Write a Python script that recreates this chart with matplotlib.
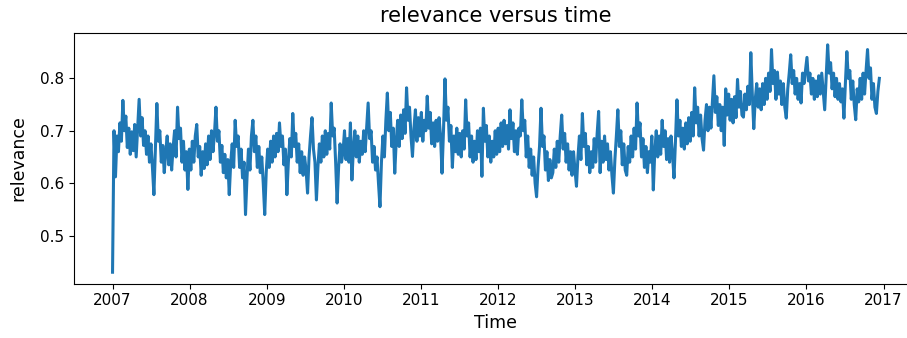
import numpy as np
import pandas as pd
import matplotlib
matplotlib.use('Agg')
import matplotlib.pyplot as plt
import matplotlib.dates as mdates

# weekly readings of relevance (in thousandths)
rel_2007 = [430, 700, 612, 690, 660, 715, 680, 758, 700, 728, 668, 705, 655, 698, 662, 712,
            650, 705, 760, 690, 725, 672, 700, 655, 690, 640, 675, 630, 578, 665, 752, 680,
            700, 640, 672, 620, 660, 690, 635, 675, 625, 668, 700, 650, 745, 685, 705, 640,
            680, 625, 660, 588]
rel_2008 = [665, 625, 680, 640, 690, 712, 650, 670, 615, 660, 628, 675, 635, 690, 645, 700,
            660, 695, 745, 680, 700, 640, 672, 620, 655, 610, 645, 578, 640, 675, 630, 720,
            670, 690, 630, 665, 610, 640, 540, 610, 665, 625, 690, 720, 660, 690, 630, 670,
            620, 650, 600, 540]
rel_2009 = [620, 665, 630, 680, 640, 690, 650, 695, 660, 715, 670, 690, 635, 665, 578, 640,
            685, 650, 733, 670, 695, 640, 675, 620, 660, 615, 650, 625, 581, 650, 690, 725,
            665, 640, 568, 630, 675, 640, 690, 650, 700, 655, 695, 665, 753, 690, 705, 640,
            562, 630, 675, 640]
rel_2010 = [660, 700, 645, 685, 640, 715, 606, 665, 700, 650, 690, 640, 680, 655, 700, 660,
            705, 753, 685, 700, 640, 670, 625, 650, 600, 555, 640, 690, 650, 720, 772, 700,
            735, 670, 705, 619, 680, 720, 670, 730, 685, 740, 695, 782, 720, 745, 690, 651,
            705, 740, 680, 725]
rel_2011 = [690, 735, 680, 720, 700, 766, 705, 735, 675, 715, 670, 720, 680, 725, 690, 619,
            700, 799, 720, 745, 680, 710, 630, 690, 660, 705, 655, 695, 650, 700, 665, 759,
            690, 715, 650, 690, 640, 680, 645, 700, 660, 705, 613, 743, 680, 710, 650, 690,
            640, 680, 650, 700]
rel_2012 = [655, 705, 660, 715, 670, 720, 675, 710, 665, 740, 685, 715, 660, 700, 655, 705,
            690, 759, 700, 720, 650, 690, 630, 665, 615, 650, 600, 574, 630, 670, 743, 670,
            690, 625, 660, 605, 645, 610, 620, 665, 630, 680, 640, 690, 730, 665, 695, 640,
            675, 625, 660, 615]
rel_2013 = [660, 625, 594, 650, 690, 645, 733, 670, 695, 635, 670, 620, 660, 630, 685, 640,
            695, 737, 620, 680, 640, 690, 645, 675, 625, 660, 615, 581, 645, 690, 740, 670,
            700, 635, 675, 625, 615, 670, 640, 690, 650, 705, 665, 753, 690, 715, 650, 685,
            630, 670, 620, 660]
rel_2014 = [640, 690, 587, 660, 700, 650, 690, 655, 720, 670, 700, 645, 685, 640, 690, 655,
            610, 680, 759, 690, 720, 670, 705, 665, 715, 675, 725, 680, 735, 690, 782, 715,
            745, 690, 730, 685, 663, 720, 750, 700, 745, 705, 755, 805, 735, 765, 710, 750,
            700, 745, 672, 780]
rel_2015 = [730, 770, 720, 760, 715, 765, 725, 798, 745, 775, 730, 726, 770, 740, 785, 750,
            849, 770, 704, 760, 790, 745, 780, 740, 790, 750, 800, 760, 810, 775, 855, 790,
            815, 760, 812, 770, 795, 750, 790, 745, 724, 780, 810, 845, 790, 815, 770, 800,
            760, 790, 753, 810]
rel_2016 = [790, 815, 840, 795, 810, 770, 800, 760, 795, 765, 805, 770, 810, 775, 740, 800,
            864, 810, 830, 780, 810, 765, 800, 760, 790, 755, 780, 724, 790, 851, 800, 815,
            760, 795, 750, 721, 780, 755, 800, 760, 810, 770, 815, 855, 800, 820, 760, 790,
            745, 733, 775, 800]

values = np.array(rel_2007 + rel_2008 + rel_2009 + rel_2010 + rel_2011 +
                  rel_2012 + rel_2013 + rel_2014 + rel_2015 + rel_2016) / 1000.0
dates = pd.date_range('2007-01-01', periods=len(values), freq='7D')

fig = plt.figure(figsize=(9.07, 3.38), dpi=100)
# axes runs past the right edge, like the cropped reference
ax = fig.add_axes([0.0818, 0.161, 0.93, 0.740])

ax.plot(dates, values, color='#1f77b4', linewidth=2.2)

ax.xaxis.set_major_locator(mdates.YearLocator())
ax.xaxis.set_major_formatter(mdates.DateFormatter('%Y'))
ax.set_yticks([0.5, 0.6, 0.7, 0.8])
ax.tick_params(labelsize=11)

ax.set_title('relevance versus time', fontsize=15, pad=8)
ax.set_xlabel('Time', fontsize=12.5)
ax.set_ylabel('relevance', fontsize=12.5, labelpad=9)

fig.savefig('out.png', dpi=100)
